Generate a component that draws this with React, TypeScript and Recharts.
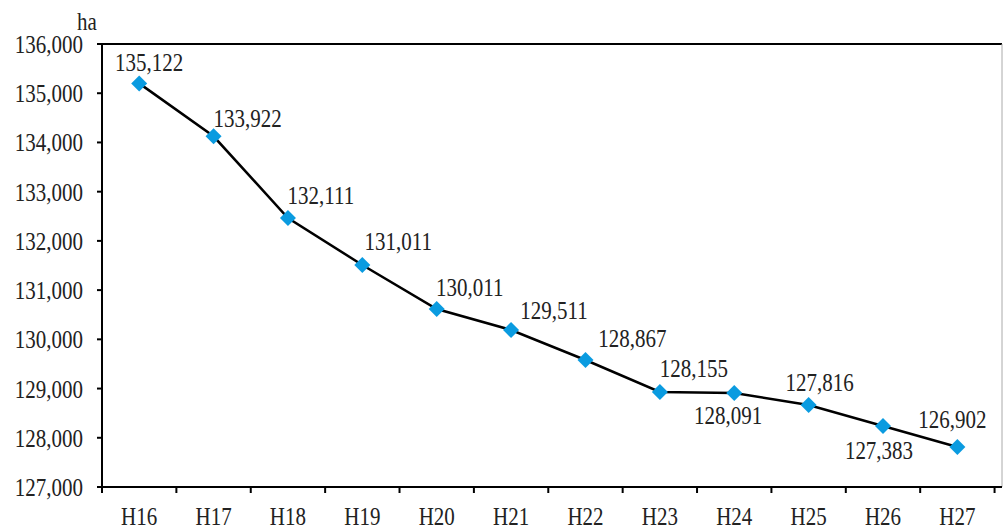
import { LineChart, Line, XAxis, YAxis, ReferenceLine, LabelList } from "recharts";

const CATEGORIES = ["H16", "H17", "H18", "H19", "H20", "H21", "H22", "H23", "H24", "H25", "H26", "H27"];
// positions the markers sit at in the picture
const PLOTTED = [135200, 134125, 132465, 131510, 130616, 130190, 129580, 128930, 128910, 128666, 128239, 127813];
// the printed value labels
const LABELS = ["135,122", "133,922", "132,111", "131,011", "130,011", "129,511", "128,867", "128,155", "128,091", "127,816", "127,383", "126,902"];
const Y_TICKS = [127000, 128000, 129000, 130000, 131000, 132000, 133000, 134000, 135000, 136000];

// label placement relative to the marker (centre of text)
const LABEL_OFFSETS: [number, number][] = [
  [10, -21], [34, -18], [33, -23], [36, -24], [33, -22], [43, -19],
  [47, -22], [34, -24], [-6, 23], [11, -22], [-4, 24], [-5, -27],
];

const FONT = "'Liberation Serif', 'Times New Roman', serif";
const FONT_SIZE = 25;
const SQUEEZE = 0.84;
const X_END = 12.1;
const X_TICKS = Array.from({ length: 25 }, (_, i) => i / 2);

const data = CATEGORIES.map((c, i) => ({ x: i + 0.5, name: c, value: PLOTTED[i], label: LABELS[i] }));

// narrow, tall serif text like the original's Mincho digits
const CText = ({ x, y, anchor, children }: { x: number; y: number; anchor: "start" | "middle" | "end"; children: any }) => (
  <text
    transform={`translate(${x},${y}) scale(${SQUEEZE},1)`}
    textAnchor={anchor}
    fontFamily={FONT}
    fontSize={FONT_SIZE}
    fill="#222"
  >
    {children}
  </text>
);

const Diamond = (props: any) => {
  const { cx, cy } = props;
  if (cx == null || cy == null) return null;
  const r = 8;
  return <polygon points={`${cx},${cy - r} ${cx + r},${cy} ${cx},${cy + r} ${cx - r},${cy}`} fill="#0A9BE0" />;
};

const XTick = (props: any) => {
  const { x, y, payload } = props;
  const v = payload.value as number;
  if (Number.isInteger(v)) {
    return <line x1={x} y1={y - 8} x2={x} y2={y - 2} stroke="#000" strokeWidth={2} />;
  }
  return (
    <CText x={x} y={y + 30} anchor="middle">
      {CATEGORIES[Math.round(v - 0.5)]}
    </CText>
  );
};

const YTick = (props: any) => {
  const { x, y, payload } = props;
  return (
    <CText x={x} y={y + 9} anchor="end">
      {(payload.value as number).toLocaleString("en-US")}
    </CText>
  );
};

const PointLabel = (props: any) => {
  const { x, y, index } = props;
  const [dx, dy] = LABEL_OFFSETS[index] ?? [0, -20];
  return (
    <CText x={x + dx} y={y + dy + 8.5} anchor="middle">
      {LABELS[index]}
    </CText>
  );
};

export default function App() {
  return (
    <div style={{ position: "absolute", left: 0, top: 0, width: 1003, height: 529, background: "#fff" }}>
      <svg style={{ position: "absolute", left: 0, top: 0 }} width={120} height={40}>
        <CText x={77} y={30} anchor="start">ha</CText>
      </svg>
      <LineChart width={1003} height={529} data={data} margin={{ top: 44, right: 1, bottom: 0, left: 0 }}>
        <XAxis
          dataKey="x"
          type="number"
          domain={[0, X_END]}
          ticks={X_TICKS}
          interval={0}
          tickLine={false}
          tick={<XTick />}
          axisLine={{ stroke: "#000", strokeWidth: 2 }}
          height={42}
        />
        <YAxis
          type="number"
          domain={[127000, 136000]}
          ticks={Y_TICKS}
          interval={0}
          width={102}
          tickSize={5}
          tickMargin={14}
          tick={<YTick />}
          tickLine={{ stroke: "#000", strokeWidth: 2 }}
          axisLine={{ stroke: "#000", strokeWidth: 2 }}
        />
        <ReferenceLine y={136000} stroke="#000" strokeWidth={2} />
        <ReferenceLine x={X_END} stroke="#aaa" strokeWidth={1} />
        <Line
          type="linear"
          dataKey="value"
          stroke="#000"
          strokeWidth={2.5}
          dot={<Diamond />}
          activeDot={false}
          isAnimationActive={false}
        >
          <LabelList dataKey="label" content={<PointLabel />} />
        </Line>
      </LineChart>
    </div>
  );
}
